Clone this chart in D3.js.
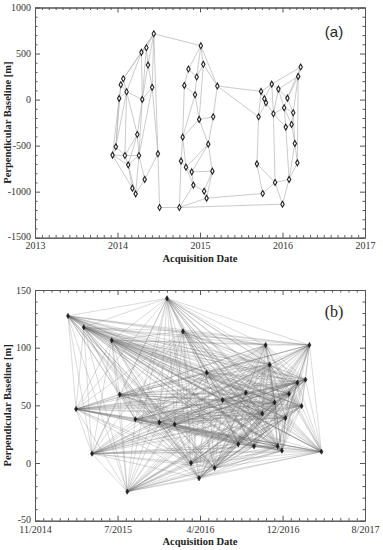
<!DOCTYPE html>
<html lang="en">
<head>
    <meta charset="UTF-8">
    <title>Baseline networks</title>
    <script src="https://d3js.org/d3.v7.min.js"></script>
    <style>
        body { margin: 0; background: #fff; }
        .axis path, .axis line { stroke: #555; }
        .axis text { font: 10px "Liberation Serif", serif; fill: #333; }
        .title { font: bold 10.5px "Liberation Serif", serif; fill: #222; }
    </style>
</head>
<body>
<script>
    // ---- panel (a): acquisitions (decimal year, baseline m) ----
    const aIds = ["A1","A2","A3","A4","A5","A6","A7","A8","A9","A10","A11","A12","A13","A14","A15","A16","A17","A18","A19","A20","A21",
                  "B1","B2","B3","B4","B5","B6","B7","B8","B9","B10","B11","B12","B13","B14","B15","B16","B17","B18","B19",
                  "C1","C2","C3","C4","C5","C6","C7","C8","C9","C10","C11","C12","C13","C14","C15","C16","C17","C18","C19","C20","C21"];
    const aDates = [2013.94, 2013.98, 2014.02, 2014.04, 2014.07, 2014.09, 2014.11, 2014.13, 2014.18, 2014.22, 2014.24,
                    2014.26, 2014.29, 2014.30, 2014.33, 2014.35, 2014.37, 2014.42, 2014.44, 2014.49, 2014.51,
                    2014.75, 2014.77, 2014.79, 2014.81, 2014.83, 2014.86, 2014.90, 2014.92, 2014.94, 2014.96,
                    2014.99, 2015.01, 2015.04, 2015.05, 2015.08, 2015.10, 2015.15, 2015.16, 2015.21,
                    2015.69, 2015.71, 2015.74, 2015.76, 2015.78, 2015.80, 2015.87, 2015.89, 2015.91, 2015.95,
                    2016.00, 2016.02, 2016.04, 2016.06, 2016.08, 2016.11, 2016.13, 2016.15, 2016.18, 2016.19, 2016.22];
    const aBaselines = [-603, -513, 13, 161, 226, -607, 85, -709, -962, -1024, -379,
                        -607, 513, 2, -867, 563, 375, 133, 715, -589, -1172,
                        -1172, -668, -408, 154, -734, 332, -785, -929, 52, 245,
                        -215, 585, 383, -995, -1071, -484, -777, -187, 147,
                        -698, -187, 89, -1020, 9, -35, 168, -154, -900, 114,
                        -1136, -89, -299, 16, -867, -270, -143, -476, -687, 252, 353];
    const aLinks = [
        "A19-A16","A19-A13","A19-A17","A19-A18","A19-A20","A19-B12","A19-A5",
        "A16-A13","A16-A17","A16-A14","A13-A5","A13-A7","A13-A14","A17-A18","A17-A14",
        "A18-A14","A18-A20","A18-A12","A5-A4","A5-A7","A4-A3","A4-A7","A4-A2",
        "A3-A7","A3-A2","A3-A1","A7-A14","A7-A11","A7-A6","A7-A2","A14-A11","A14-A12",
        "A11-A6","A11-A12","A11-A8","A2-A1","A2-A6","A1-A6","A1-A9","A1-A8",
        "A6-A8","A6-A12","A8-A9","A8-A12","A8-A10","A12-A15","A12-A10","A9-A10",
        "A15-A10","A20-A15","A20-A21","A21-B1",
        "B12-B6","B12-B13","B12-B10","B12-B19","B6-B4","B6-B10","B13-B10","B13-B19","B13-B11",
        "B10-B9","B4-B9","B4-B3","B9-B11","B9-B3","B11-B18","B11-B3","B11-B16","B18-B19",
        "B18-B16","B19-C3","B19-C2","B3-B2","B3-B5","B16-B17","B16-B7","B16-B5","B2-B5","B2-B1",
        "B5-B7","B5-B8","B7-B8","B7-B17","B8-B14","B17-B14","B17-B15","B14-B15","B8-B1",
        "B1-B15","B1-C11","B15-C4",
        "C21-C20","C21-C7","C21-C14","C20-C10","C20-C14","C20-C17","C20-C19","C7-C3","C7-C10",
        "C7-C5","C7-C8","C3-C5","C3-C2","C5-C6","C6-C8","C6-C2","C10-C14","C10-C12","C10-C8",
        "C14-C12","C14-C17","C12-C8","C12-C13","C12-C17","C12-C16","C8-C13","C8-C9","C17-C16",
        "C17-C18","C16-C13","C16-C18","C13-C15","C18-C19","C18-C15","C2-C1","C1-C4","C1-C9",
        "C19-C15","C15-C9","C15-C11","C9-C4","C9-C11"
    ];

    // ---- panel (b): acquisitions (decimal year, baseline m) ----
    const bDates = [2015.108, 2015.175, 2015.239, 2015.308, 2015.472, 2015.539, 2015.602, 2015.669, 2015.869,
                    2015.933, 2015.997, 2016.066, 2016.133, 2016.200, 2016.264, 2016.330, 2016.397, 2016.527,
                    2016.590, 2016.658, 2016.727, 2016.755, 2016.789, 2016.830, 2016.855, 2016.891, 2016.920,
                    2016.950, 2017.020, 2017.055, 2017.087, 2017.120, 2017.220];
    const bBaselines = [127.5, 46.8, 117.6, 8.1, 106.4, 59.3, -24.8, 37.9, 35.3,
                        142.8, 33.6, 114.2, 0.0, -13.2, 78.3, -4.3, 54.6, 16.2,
                        61.0, 14.5, 42.8, 102.3, 85.3, 52.6, 14.5, 10.7, 39.0,
                        59.9, 69.7, 49.4, 72.3, 102.3, 9.8];

    // ---- axes ----
    const aXTicks = [2013, 2014, 2015, 2016, 2017];
    const aXLabels = ["2013", "2014", "2015", "2016", "2017"];
    const aYTicks = [-1500, -1000, -500, 0, 500, 1000];
    const bXTicks = [2014.833, 2015.521, 2016.208, 2016.896, 2017.583];
    const bXLabels = ["11/2014", "7/2015", "4/2016", "12/2016", "8/2017"];
    const bYTicks = [-50, 0, 50, 100, 150];

    const width = 383, height = 550;
    const left = 35, right = 365;

    const svg = d3.select("body").append("svg").attr("width", width).attr("height", height);

    function minorBetween(ticks, n) {
        const out = [];
        for (let i = 0; i < ticks.length - 1; i++) {
            const step = (ticks[i + 1] - ticks[i]) / n;
            for (let k = 1; k < n; k++) out.push(ticks[i] + k * step);
        }
        return out;
    }

    function frame(x, y, xTicks, xLabels, xMinorN, yTicks, yMinorN, xPad) {
        const [y0, y1] = y.range();
        const xMinor = minorBetween(xTicks, xMinorN);
        const yMinor = minorBetween(yTicks, yMinorN);
        const add = (axis, tx, ty) => svg.append("g").attr("class", "axis")
                .attr("transform", "translate(" + [tx, ty] + ")").call(axis);

        add(d3.axisBottom(x).tickValues(xMinor).tickSize(-2.5).tickSizeOuter(0).tickFormat(""), 0, y0);
        add(d3.axisBottom(x).tickValues(xTicks).tickSize(-5).tickSizeOuter(0).tickPadding(xPad)
              .tickFormat((d, i) => xLabels[i]), 0, y0);
        add(d3.axisTop(x).tickValues(xMinor).tickSize(-2.5).tickSizeOuter(0).tickFormat(""), 0, y1);
        add(d3.axisTop(x).tickValues(xTicks).tickSize(-5).tickSizeOuter(0).tickFormat(""), 0, y1);
        add(d3.axisLeft(y).tickValues(yMinor).tickSize(-2.5).tickSizeOuter(0).tickFormat(""), left, 0);
        const yl = add(d3.axisLeft(y).tickValues(yTicks).tickSize(-5).tickSizeOuter(0).tickPadding(4)
              .tickFormat(d => String(d)), left, 0);
        // lowest label sits a touch higher so it clears the date labels
        yl.selectAll(".tick text").filter((d, i) => i === 0).attr("dy", "0.2em");
        add(d3.axisRight(y).tickValues(yMinor).tickSize(-2.5).tickSizeOuter(0).tickFormat(""), right, 0);
        add(d3.axisRight(y).tickValues(yTicks).tickSize(-5).tickSizeOuter(0).tickFormat(""), right, 0);

        svg.append("text").attr("class", "title")
           .attr("transform", "translate(" + [11, (y0 + y1) / 2] + ") rotate(-90)")
           .attr("text-anchor", "middle").text("Perpendicular Baseline [m]");
        svg.append("text").attr("class", "title")
           .attr("x", (left + right) / 2).attr("y", y0 + 24)
           .attr("text-anchor", "middle").text("Acquisition Date");
    }

    // ---------- panel (a) ----------
    const xA = d3.scaleLinear().domain([2013, 2017]).range([left, right]);
    const yA = d3.scaleLinear().domain([-1500, 1000]).range([237.7, 7.5]);
    const aIndex = new Map(aIds.map((id, i) => [id, i]));
    const aPts = aDates.map((d, i) => [xA(d), yA(aBaselines[i])]);

    svg.append("g").selectAll("line").data(aLinks).join("line")
       .attr("x1", l => aPts[aIndex.get(l.split("-")[0])][0])
       .attr("y1", l => aPts[aIndex.get(l.split("-")[0])][1])
       .attr("x2", l => aPts[aIndex.get(l.split("-")[1])][0])
       .attr("y2", l => aPts[aIndex.get(l.split("-")[1])][1])
       .attr("stroke", "#b4b4b4").attr("stroke-width", 0.7);

    svg.append("g").selectAll("path").data(aPts).join("path")
       .attr("transform", p => "translate(" + p + ")")
       .attr("d", d3.symbol(d3.symbolDiamond, 10))
       .attr("fill", "#fff").attr("stroke", "#222").attr("stroke-width", 1.1);

    frame(xA, yA, aXTicks, aXLabels, 12, aYTicks, 5, 4);

    svg.append("text").attr("x", 334).attr("y", 37).attr("text-anchor", "middle")
       .style("font", "15px 'Liberation Sans', sans-serif").attr("fill", "#222").text("(a)");

    // ---------- panel (b) ----------
    const xB = d3.scaleLinear().domain([bXTicks[0], bXTicks[4]]).range([left, right]);
    const yB = d3.scaleLinear().domain([-50, 150]).range([520.7, 290]);
    const bPts = bDates.map((d, i) => [xB(d), yB(bBaselines[i])]);
    const bLinks = [];
    bPts.forEach((p, i) => bPts.forEach((q, j) => { if (j > i) bLinks.push([p, q]); }));

    svg.append("g").selectAll("line").data(bLinks).join("line")
       .attr("x1", l => l[0][0]).attr("y1", l => l[0][1])
       .attr("x2", l => l[1][0]).attr("y2", l => l[1][1])
       .attr("stroke", "#666").attr("stroke-opacity", 0.4).attr("stroke-width", 0.6);

    svg.append("g").selectAll("path").data(bPts).join("path")
       .attr("transform", p => "translate(" + p + ")")
       .attr("d", d3.symbol(d3.symbolDiamond, 8))
       .attr("fill", "#222").attr("stroke", "#111").attr("stroke-width", 0.5);

    frame(xB, yB, bXTicks, bXLabels, 10, bYTicks, 5, 5);

    svg.append("text").attr("x", 334).attr("y", 317).attr("text-anchor", "middle")
       .style("font", "16px 'Liberation Serif', serif").attr("fill", "#222").text("(b)");
</script>
</body>
</html>
